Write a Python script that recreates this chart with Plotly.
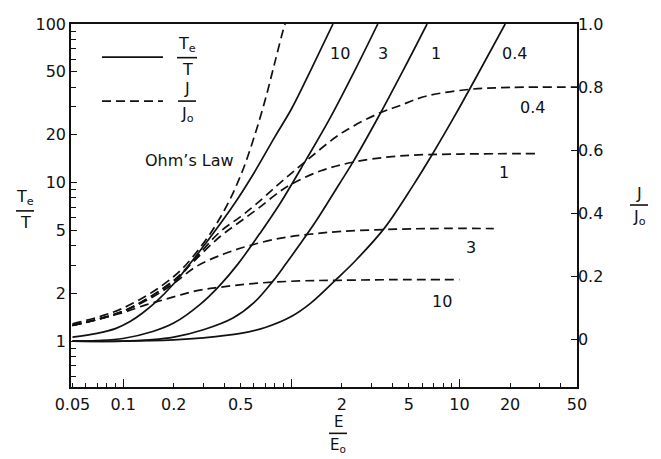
import plotly.graph_objects as go
import math

# ---- Te/T curves (solid), parameter 10, 3, 1, 0.4 ----
E_T10 = [0.05, 0.07, 0.09, 0.11, 0.13, 0.158, 0.2, 0.26, 0.342, 0.461, 0.6, 0.8, 1.0, 1.315, 1.77]
T10 = [1.06, 1.12, 1.2, 1.33, 1.5, 1.78, 2.3, 3.25, 4.75, 7.4, 11.5, 19.5, 29, 52, 100]

E_T3 = [0.05, 0.07, 0.1, 0.15, 0.2, 0.286, 0.376, 0.48, 0.648, 0.852, 1.228, 1.7, 2.43, 3.27]
T3 = [1.0, 1.01, 1.04, 1.15, 1.3, 1.7, 2.25, 3.05, 4.75, 7.3, 14.0, 25.5, 52.9, 100]

E_T1 = [0.05, 0.1, 0.144, 0.2, 0.3, 0.45, 0.6, 0.78, 0.934, 1.12, 1.4, 1.93, 2.32, 3.3, 4.71, 6.42]
T1 = [1.0, 1.0, 1.02, 1.06, 1.18, 1.40, 1.75, 2.4, 3.1, 4.05, 5.7, 9.8, 13.4, 26, 52.9, 100]

E_T04 = [0.05, 0.1, 0.2, 0.3, 0.5, 0.7, 1.0, 1.3, 1.85, 2.43, 3.6, 5.27, 6.93, 9.5, 12.55, 18.7]
T04 = [1.0, 1.0, 1.02, 1.05, 1.12, 1.22, 1.43, 1.73, 2.45, 3.25, 5.2, 9.5, 15.2, 27, 46, 100]

# ---- J/Jo curves (dashed) ----
E_J10 = [0.05, 0.1, 0.138, 0.173, 0.22, 0.286, 0.376, 0.565, 1.12, 1.93, 4, 10]
J10 = [0.045, 0.086, 0.111, 0.126, 0.142, 0.157, 0.166, 0.177, 0.186, 0.188, 0.19, 0.19]

E_J3 = [0.05, 0.1, 0.15, 0.2, 0.273, 0.4, 0.565, 0.852, 1.28, 2, 3.66, 7, 16]
J3 = [0.045, 0.09, 0.135, 0.178, 0.232, 0.272, 0.298, 0.321, 0.334, 0.343, 0.349, 0.352, 0.352]

E_J1 = [0.05, 0.1, 0.2, 0.26, 0.376, 0.5, 0.633, 0.852, 1.02, 1.5, 2.32, 4.4, 10, 30]
J1 = [0.045, 0.09, 0.185, 0.245, 0.326, 0.375, 0.415, 0.469, 0.495, 0.535, 0.562, 0.582, 0.588, 0.589]

E_J04 = [0.05, 0.1, 0.2, 0.26, 0.376, 0.5, 0.62, 0.852, 1.25, 2.0, 3.35, 4.4, 6.3, 11.5, 20, 50]
J04 = [0.045, 0.09, 0.188, 0.249, 0.341, 0.39, 0.43, 0.495, 0.570, 0.655, 0.718, 0.741, 0.771, 0.793, 0.799, 0.80]

E_OHM = [0.05, 0.1, 0.2, 0.3, 0.4, 0.5, 0.6, 0.7, 0.8, 0.9, 0.92]
J_OHM = [0.05, 0.1, 0.2, 0.305, 0.41, 0.52, 0.64, 0.76, 0.88, 0.985, 1.0]

# ---- ticks ----
X_TICKS = [0.05, 0.1, 0.2, 0.5, 1, 2, 5, 10, 20, 50]
X_TICKTEXT = ["0.05", "0.1", "0.2", "0.5", "", "2", "5", "10", "20", "50"]
X_MINOR = [0.06, 0.07, 0.08, 0.09, 0.3, 0.4, 0.6, 0.7, 0.8, 0.9,
           3, 4, 6, 7, 8, 9, 30, 40]
X_DECADES = [0.1, 1, 10]
YL_TICKS = [1, 2, 5, 10, 20, 50, 100]
YL_MINOR = [0.6, 0.7, 0.8, 0.9, 3, 4, 6, 7, 8, 9, 30, 40, 60, 70, 80, 90]
YR_TICKS = [0, 0.2, 0.4, 0.6, 0.8, 1.0]
YR_TICKTEXT = ["0", "0.2", "0.4", "0.6", "0.8", "1.0"]

# curve labels
TOP_LABELS = ["10", "3", "1", "0.4"]
TOP_LABEL_E = [1.94, 3.49, 7.29, 21.2]
J_LABELS = ["0.4", "1", "3", "10"]
J_LABEL_E = [27.1, 18.5, 11.7, 7.88]
J_LABEL_J = [0.737, 0.528, 0.293, 0.121]

FONT = "DejaVu Sans"
BLACK = "#111111"
DASH = "9px,5px"
LW = 1.7

# page offset (body margin 8px) compensated; plot area in page px: x 71..577, y 15..387
W, H = 653, 451
PX0, PX1, PY0, PY1 = 71, 577, 15, 387


def X(px):
    return (px - PX0) / (PX1 - PX0)


def Y(py):
    return (PY1 - py) / (PY1 - PY0)


fig = go.Figure()

for ex, ty in [(E_T10, T10), (E_T3, T3), (E_T1, T1), (E_T04, T04)]:
    fig.add_trace(go.Scatter(x=ex, y=ty, mode="lines",
                             line=dict(color=BLACK, width=LW, shape="spline", smoothing=1.0),
                             showlegend=False, hoverinfo="skip", xaxis="x", yaxis="y"))

for ex, jy in [(E_J10, J10), (E_J3, J3), (E_J1, J1), (E_J04, J04), (E_OHM, J_OHM)]:
    fig.add_trace(go.Scatter(x=ex, y=jy, mode="lines",
                             line=dict(color=BLACK, width=LW, dash=DASH, shape="spline", smoothing=1.0),
                             showlegend=False, hoverinfo="skip", xaxis="x", yaxis="y2"))

# helper trace so the decade-tick axis is drawn
fig.add_trace(go.Scatter(x=[1], y=[None], mode="lines", showlegend=False, hoverinfo="skip",
                         xaxis="x2", yaxis="y"))

x_range = [math.log10(0.049), math.log10(50)]
TICKFONT = dict(family=FONT, size=16, color=BLACK)

fig.update_layout(
    width=W, height=H,
    margin=dict(l=PX0 - 8, r=W - (PX1 - 8), t=PY0 - 8, b=H - (PY1 - 8)),
    paper_bgcolor="white", plot_bgcolor="white",
    font=dict(family=FONT, size=16, color=BLACK),
    xaxis=dict(type="log", range=x_range, showgrid=False, zeroline=False,
               showline=True, linecolor=BLACK, linewidth=1.5, mirror=True,
               ticks="inside", ticklen=4, tickwidth=1.3, tickcolor=BLACK,
               tickmode="array", tickvals=X_TICKS, ticktext=X_TICKTEXT,
               tickfont=TICKFONT, ticklabelstandoff=2, ticklabeloverflow="allow",
               minor=dict(tickmode="array", tickvals=X_MINOR, ticks="inside", ticklen=4,
                          tickwidth=1.3, tickcolor=BLACK, showgrid=False)),
    xaxis2=dict(type="log", range=x_range, overlaying="x", anchor="y", side="bottom",
                showgrid=False, zeroline=False, showline=False,
                ticks="inside", ticklen=8, tickwidth=1.3, tickcolor=BLACK,
                tickmode="array", tickvals=X_DECADES, showticklabels=False),
    yaxis=dict(type="log", range=[-0.289, 2], showgrid=False, zeroline=False,
               showline=True, linecolor=BLACK, linewidth=1.5,
               ticks="inside", ticklen=6, tickwidth=1.3, tickcolor=BLACK,
               tickmode="array", tickvals=YL_TICKS, ticktext=[str(v) for v in YL_TICKS],
               tickfont=TICKFONT, ticklabelstandoff=0, ticklabeloverflow="allow",
               minor=dict(tickmode="array", tickvals=YL_MINOR, ticks="inside", ticklen=5,
                          tickwidth=1.3, tickcolor=BLACK, showgrid=False)),
    yaxis2=dict(range=[-0.15, 1.0], overlaying="y", side="right", anchor="x",
                showgrid=False, zeroline=False, showline=True, linecolor=BLACK, linewidth=1.5,
                ticks="inside", ticklen=6, tickwidth=1.3, tickcolor=BLACK,
                tickmode="array", tickvals=YR_TICKS, ticktext=YR_TICKTEXT,
                tickfont=TICKFONT, ticklabelstandoff=-4, ticklabeloverflow="allow"),
)

ann = []
for t, e in zip(TOP_LABELS, TOP_LABEL_E):
    ann.append(dict(x=math.log10(e), y=math.log10(65), xref="x", yref="y", text=t,
                    xanchor="center", yanchor="middle", showarrow=False, font=dict(size=16)))
for t, e, j in zip(J_LABELS, J_LABEL_E, J_LABEL_J):
    ann.append(dict(x=math.log10(e), y=j, xref="x", yref="y2", text=t,
                    xanchor="center", yanchor="middle", showarrow=False, font=dict(size=16)))

ann.append(dict(x=X(189), y=Y(155), xref="paper", yref="paper", text="Ohm’s Law",
                xanchor="center", yanchor="middle", showarrow=False, font=dict(size=16)))

shapes = []


def frac(cx, py_num, py_bar, py_den, num, den, half_w, size=16):
    ann.append(dict(x=X(cx), y=Y(py_num), xref="paper", yref="paper", text=num,
                    xanchor="center", yanchor="bottom", showarrow=False, font=dict(size=size),
                    borderpad=0))
    ann.append(dict(x=X(cx), y=Y(py_den), xref="paper", yref="paper", text=den,
                    xanchor="center", yanchor="top", showarrow=False, font=dict(size=size),
                    borderpad=0))
    shapes.append(dict(type="line", xref="paper", yref="paper",
                       x0=X(cx - half_w), x1=X(cx + half_w), y0=Y(py_bar), y1=Y(py_bar),
                       line=dict(color=BLACK, width=1.6)))


# numerator bottom edge / bar / denominator top edge (page px)
frac(187, 48, 49.5, 51, "T<sub>e</sub>", "T", 10)
frac(187, 92, 94, 96, "J", "J<sub>o</sub>", 9)
frac(25, 205, 206.5, 208, "T<sub>e</sub>", "T", 9)
frac(639, 199, 200.5, 202, "J", "J<sub>o</sub>", 9)
frac(338, 433, 434.5, 436, "E", "E<sub>o</sub>", 9, size=15)

# legend samples
shapes.append(dict(type="line", xref="paper", yref="paper", x0=X(102), x1=X(163), y0=Y(49), y1=Y(49),
                   line=dict(color=BLACK, width=LW)))
shapes.append(dict(type="line", xref="paper", yref="paper", x0=X(102), x1=X(163), y0=Y(94), y1=Y(94),
                   line=dict(color=BLACK, width=LW, dash=DASH)))

fig.update_layout(annotations=ann, shapes=shapes)

fig.write_html("out.html")
